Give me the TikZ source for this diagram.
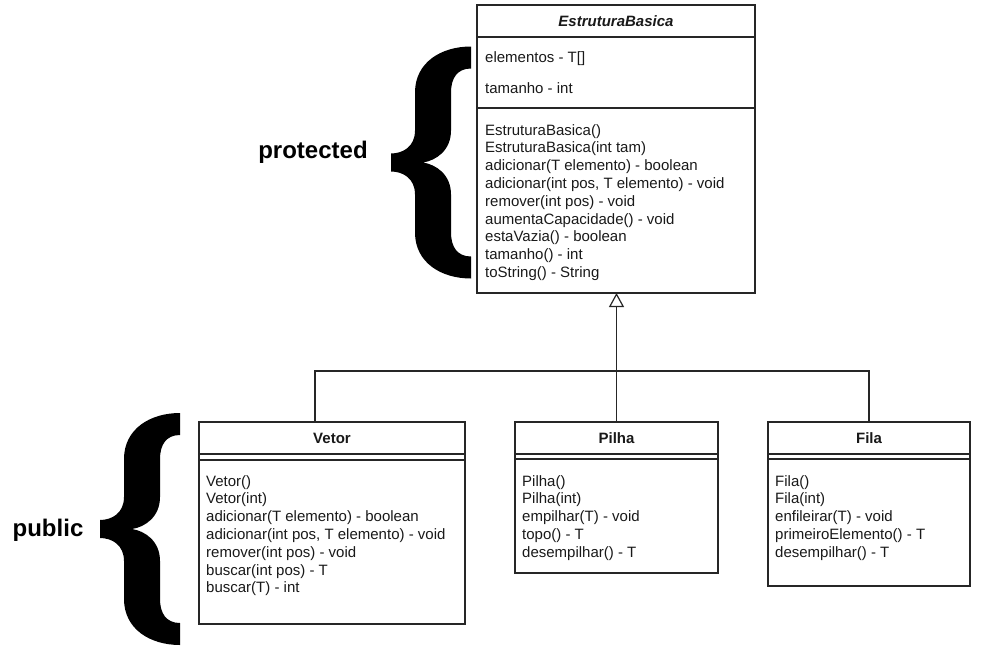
\documentclass[tikz,border=0pt]{standalone}
\usepackage{fontspec}
\setmainfont{Liberation Sans}
\usetikzlibrary{arrows.meta,positioning}

\tikzset{
  classbox/.style={draw=black!85, line width=1.2pt, rectangle, inner sep=0pt, outer sep=0pt, anchor=north west},
  classname/.style={font=\fontsize{15}{18}\selectfont\bfseries, text=black!90},
  members/.style={font=\fontsize{15}{17.8}\selectfont, text=black!90, align=left, anchor=north west, inner sep=0pt},
  visib/.style={font=\fontsize{24}{28}\selectfont\bfseries, anchor=base, inner sep=0pt},
  uml/.style={draw=black!85, line width=1.2pt},
  inherit/.style={uml, -{Triangle[open, width=15pt, length=14pt]}},
  curlybrace/.pic={
    \fill (80,-116) -- (80,-94) .. controls (66,-94) and (60,-84) .. (60,-70)
      -- (60,-32) .. controls (60,-12) and (45,-2) .. (32,0)
      .. controls (45,2) and (60,12) .. (60,32) -- (60,70)
      .. controls (60,84) and (66,94) .. (80,94) -- (80,116)
      .. controls (50,116) and (24,100) .. (24,70) -- (24,32)
      .. controls (24,16) and (12,9) .. (0,9) -- (0,-9)
      .. controls (12,-9) and (24,-16) .. (24,-32) -- (24,-70)
      .. controls (24,-100) and (50,-116) .. (80,-116) -- cycle;
  }
}

\begin{document}
\begin{tikzpicture}[x=1pt,y=-1pt]
  \useasboundingbox (0,0) rectangle (1001,656);

  % superclass
  \node[classbox, classname, minimum width=278pt, minimum height=32pt] (eb) at (477,5) {\textit{EstruturaBasica}};
  \node[classbox, minimum width=278pt, minimum height=71pt] (ebattr) at (eb.south west) {};
  \node[classbox, minimum width=278pt, minimum height=185pt] (ebops) at (ebattr.south west) {};
  \node[members] (ebattrtext) at ([xshift=8pt,yshift=-14pt]ebattr.north west) {elementos - T[]\\[13.2pt]tamanho - int};
  \node[members] (ebopstext) at ([xshift=8pt,yshift=-16pt]ebops.north west) {EstruturaBasica()\\EstruturaBasica(int tam)\\adicionar(T elemento) - boolean\\adicionar(int pos, T elemento) - void\\remover(int pos) - void\\aumentaCapacidade() - void\\estaVazia() - boolean\\tamanho() - int\\toString() - String};

  % subclasses
  \node[classbox, classname, minimum width=266pt, minimum height=32pt] (vetor) at (199,422) {Vetor};
  \node[classbox, minimum width=266pt, minimum height=6pt] (vetorattr) at (vetor.south west) {};
  \node[classbox, minimum width=266pt, minimum height=164pt] (vetorops) at (vetorattr.south west) {};
  \node[members] (vetortext) at ([xshift=7pt,yshift=-15pt]vetorops.north west) {Vetor()\\Vetor(int)\\adicionar(T elemento) - boolean\\adicionar(int pos, T elemento) - void\\remover(int pos) - void\\buscar(int pos) - T\\buscar(T) - int};

  \node[classbox, classname, minimum width=203pt, minimum height=32pt] (pilha) at (515,422) {Pilha};
  \node[classbox, minimum width=203pt, minimum height=5pt] (pilhaattr) at (pilha.south west) {};
  \node[classbox, minimum width=203pt, minimum height=114pt] (pilhaops) at (pilhaattr.south west) {};
  \node[members] (pilhatext) at ([xshift=7pt,yshift=-16pt]pilhaops.north west) {Pilha()\\Pilha(int)\\empilhar(T) - void\\topo() - T\\desempilhar() - T};

  \node[classbox, classname, minimum width=202pt, minimum height=32pt] (fila) at (768,422) {Fila};
  \node[classbox, minimum width=202pt, minimum height=5pt] (filaattr) at (fila.south west) {};
  \node[classbox, minimum width=202pt, minimum height=127pt] (filaops) at (filaattr.south west) {};
  \node[members] (filatext) at ([xshift=7pt,yshift=-16pt]filaops.north west) {Fila()\\Fila(int)\\enfileirar(T) - void\\primeiroElemento() - T\\desempilhar() - T};

  % inheritance
  \coordinate (split) at (616.5,371);
  \draw[inherit] (pilha.north) -- (pilha.north |- ebops.south);
  \draw[uml] ([xshift=-17pt]vetor.north) |- (split);
  \draw[uml] (fila.north) |- (split);

  % visibility
  \pic at (391,162.5) {curlybrace};
  \node[visib] (prot) at (313,158) {protected};
  \pic at (100,529) {curlybrace};
  \node[visib] (pub) at (48,536) {public};
\end{tikzpicture}
\end{document}
